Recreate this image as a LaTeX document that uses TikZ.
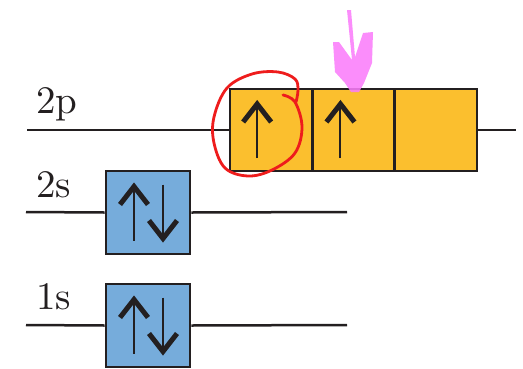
\documentclass[tikz,border=0pt]{standalone}
\usepackage{fontspec}
\newfontfamily\lblfont{lmroman10-regular.otf}
\usetikzlibrary{calc}
\definecolor{ink}{HTML}{231F20}
\definecolor{pyellow}{HTML}{FBBF2E}
\definecolor{sblue}{HTML}{76ACDB}
\definecolor{marker}{RGB}{250,125,250}
\definecolor{pen}{HTML}{EE1C1C}
\tikzset{
  level/.style={draw=ink, line width=2.5pt},
  orbital/.style={draw=ink, line width=2.6pt, minimum width=82.3pt, minimum height=82pt, inner sep=0pt},
  porb/.style={orbital, fill=pyellow},
  sorb/.style={orbital, fill=sblue, minimum width=84pt, minimum height=83pt},
  shaft/.style={draw=ink, line width=2pt},
  chev/.style={draw=ink, line width=5pt, line join=miter, line cap=butt},
  lbl/.style={anchor=base west, inner sep=0pt, font=\lblfont\fontsize{39}{39}\selectfont, text=ink},
}
% electron spins drawn inside an orbital box (#1 = box, #2 = horizontal offset)
\newcommand\spinup[2]{%
  \draw[shaft] ([shift={(#2,28)}]#1.center) -- ([shift={(#2,-25)}]#1.center);
  \draw[chev] ([shift={(#2-14,-8)}]#1.center) -- ([shift={(#2,-26)}]#1.center) -- ([shift={(#2+14,-8)}]#1.center);}
\newcommand\spindown[2]{%
  \draw[shaft] ([shift={(#2,-28)}]#1.center) -- ([shift={(#2,25)}]#1.center);
  \draw[chev] ([shift={(#2-14,8)}]#1.center) -- ([shift={(#2,26)}]#1.center) -- ([shift={(#2+14,8)}]#1.center);}
\begin{document}
\begin{tikzpicture}[x=1pt,y=-1pt]
\useasboundingbox (0,0) rectangle (523,368);

% 2p level
\node[lbl] (l2p) at (36,113) {2p};
\coordinate (p0) at (27,130);
\coordinate (p4) at (516,130);
\node[porb] (p1) at (271.15,130) {};
\node[porb] (p2) at (353.45,130) {};
\node[porb] (p3) at (435.75,130) {};
\draw[level] (p0) -- (p1.west);
\draw[level] (p3.east) -- (p4);
\node[porb] at (p1) {};
\node[porb] at (p2) {};
\node[porb] at (p3) {};
\spinup{p1}{-14}
\spinup{p2}{-13}

% 2s level
\node[lbl] (l2s) at (36,197) {2s};
\coordinate (s0) at (26,212);
\coordinate (s3) at (347,212);
\node[sorb] (s2) at (148,212.5) {};
\draw[level] (s0) -- (s2.west);
\draw[level] (s2.east) -- (s3);
\spinup{s2}{-14}
\spindown{s2}{15}

% 1s level
\node[lbl] (l1s) at (36,309) {1s};
\coordinate (t0) at (26,325);
\coordinate (t3) at (347,325);
\node[sorb] (t2) at (148,325.5) {};
\draw[level] (t0) -- (t2.west);
\draw[level] (t2.east) -- (t3);
\spinup{t2}{-14}
\spindown{t2}{15}

% highlighter arrow pointing at the second 2p box
\fill[marker, fill opacity=0.88]
  (347,10) -- (351,10) -- (355,57) -- (363,33) -- (373,32) -- (372,63)
  -- (364,83) -- (359,92) -- (351,92) -- (345,83) -- (335,72) -- (333,42)
  -- (339,42) -- (352,60) -- cycle;

% pen loop around the first 2p box
\draw[pen, line width=2.8pt, line cap=round, line join=round]
  plot[smooth, tension=0.6] coordinates {
    (283,95) (295,102) (302,127) (295,153) (272,170) (248,176) (225,168)
    (214,143) (214,117) (227,88) (252,74) (278,72) (295,79) (298,90) (296,102)};
\end{tikzpicture}
\end{document}
